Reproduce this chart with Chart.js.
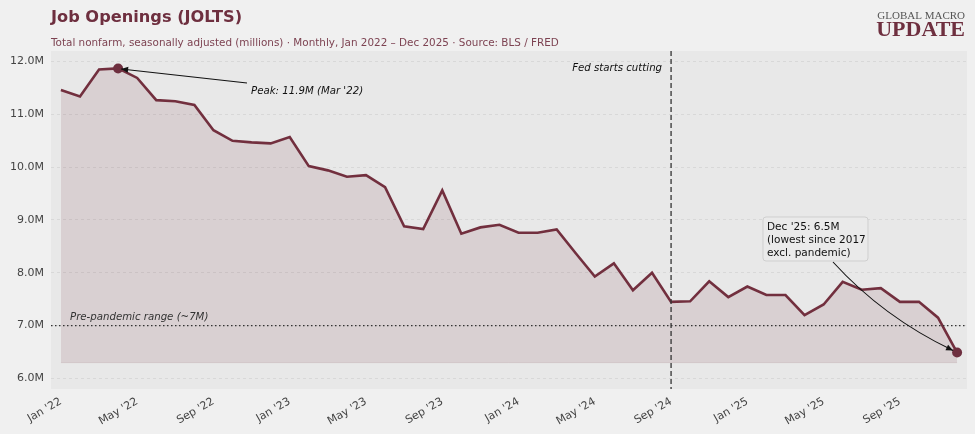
<!DOCTYPE html>
<html lang="en">
<head>
  <meta charset="UTF-8">
  <title>Job Openings (JOLTS)</title>
  <script src="https://cdn.jsdelivr.net/npm/chart.js"></script>
  <style>
    html, body {
      margin: 0;
      padding: 0;
      background: #f0f0f0;
    }
    #wrap {
      position: relative;
      width: 975px;
      height: 434px;
    }
  </style>
</head>
<body>
  <div id="wrap">
    <canvas id="chart" width="975" height="434"></canvas>
  </div>

  <script>
    // monthly openings, millions (Jan 2022 .. Dec 2025)
    const months = [
      "Jan '22","Feb '22","Mar '22","Apr '22","May '22","Jun '22","Jul '22","Aug '22","Sep '22","Oct '22","Nov '22","Dec '22",
      "Jan '23","Feb '23","Mar '23","Apr '23","May '23","Jun '23","Jul '23","Aug '23","Sep '23","Oct '23","Nov '23","Dec '23",
      "Jan '24","Feb '24","Mar '24","Apr '24","May '24","Jun '24","Jul '24","Aug '24","Sep '24","Oct '24","Nov '24","Dec '24",
      "Jan '25","Feb '25","Mar '25","Apr '25","May '25","Jun '25","Jul '25","Aug '25","Sep '25","Oct '25","Nov '25","Dec '25"
    ];
    const openings = [
      11.46, 11.34, 11.85, 11.87, 11.69, 11.27, 11.25, 11.18, 10.70, 10.50, 10.47, 10.45,
      10.57, 10.02, 9.94, 9.82, 9.85, 9.62, 8.88, 8.83, 9.56, 8.74, 8.86, 8.91,
      8.76, 8.76, 8.82, 8.37, 7.93, 8.18, 7.67, 8.00, 7.45, 7.46, 7.84, 7.54,
      7.74, 7.58, 7.58, 7.20, 7.40, 7.83, 7.68, 7.71, 7.45, 7.45, 7.15, 6.49
    ];
    const xTickIdx = [0, 4, 8, 12, 16, 20, 24, 28, 32, 36, 40, 44];
    const yTicks = [6, 7, 8, 9, 10, 11, 12];
    const fillBase = 6.3;
    const prePandemic = 7.0;
    const fedCutIdx = 32;   // Sep '24
    const peakIdx = 3;
    const lastIdx = openings.length - 1;

    const MAROON = '#722f3e';
    const FONT = "'DejaVu Sans', sans-serif";

    // plot background + titles + annotations
    const decor = {
      id: 'decor',
      beforeDraw(chart) {
        const { ctx, chartArea: a } = chart;
        ctx.save();
        ctx.fillStyle = '#e8e8e8';
        ctx.fillRect(a.left, a.top, a.right - a.left, a.bottom - a.top);
        ctx.restore();
      },
      afterDraw(chart) {
        const { ctx, chartArea: a, scales } = chart;
        const xs = scales.x, ys = scales.y;
        ctx.save();

        // title block
        ctx.textBaseline = 'alphabetic';
        ctx.textAlign = 'left';
        ctx.fillStyle = '#6e2f3f';
        ctx.font = "bold 16.2px " + FONT;
        ctx.fillText('Job Openings (JOLTS)', 51, 22);
        ctx.fillStyle = '#7d4352';
        ctx.font = "10.4px " + FONT;
        ctx.fillText('Total nonfarm, seasonally adjusted (millions) \u00b7 Monthly, Jan 2022 \u2013 Dec 2025 \u00b7 Source: BLS / FRED', 51, 46);

        // logo
        ctx.textAlign = 'right';
        ctx.fillStyle = '#555';
        ctx.font = "11px 'Liberation Serif', serif";
        ctx.fillText('GLOBAL MACRO', 965, 18.5);
        ctx.fillStyle = '#6e2f3f';
        ctx.font = "bold 22px 'Liberation Serif', serif";
        ctx.fillText('UPDATE', 965, 36);

        // fill outline at the base
        const yb = ys.getPixelForValue(fillBase);
        ctx.strokeStyle = 'rgba(114,47,61,0.12)';
        ctx.lineWidth = 1;
        ctx.beginPath();
        ctx.moveTo(xs.getPixelForValue(0), yb);
        ctx.lineTo(xs.getPixelForValue(lastIdx), yb);
        ctx.stroke();

        // pre-pandemic dotted line
        const y7 = ys.getPixelForValue(prePandemic);
        ctx.strokeStyle = '#333';
        ctx.lineWidth = 1.2;
        ctx.setLineDash([1.5, 2.5]);
        ctx.beginPath();
        ctx.moveTo(a.left, y7);
        ctx.lineTo(a.right, y7);
        ctx.stroke();
        ctx.setLineDash([]);
        ctx.textAlign = 'left';
        ctx.fillStyle = '#333';
        ctx.font = "italic 10.2px " + FONT;
        ctx.fillText('Pre-pandemic range (~7M)', 70, y7 - 6);

        // Fed cut vertical dashed line
        const xf = xs.getPixelForValue(fedCutIdx);
        ctx.strokeStyle = '#333';
        ctx.lineWidth = 1.3;
        ctx.setLineDash([5, 3]);
        ctx.beginPath();
        ctx.moveTo(xf, a.top);
        ctx.lineTo(xf, a.bottom);
        ctx.stroke();
        ctx.setLineDash([]);
        ctx.textAlign = 'right';
        ctx.fillStyle = '#111';
        ctx.fillText('Fed starts cutting', xf - 9, 71);

        // peak annotation
        const px = xs.getPixelForValue(peakIdx), py = ys.getPixelForValue(openings[peakIdx]);
        ctx.textAlign = 'left';
        ctx.fillStyle = '#111';
        ctx.fillText('Peak: 11.9M (Mar \'22)', 251, 94);
        arrow(ctx, 247, 83, px + 3, py + 0.5, null);

        // Dec '25 box
        const bx = 763, by = 217, bw = 105, bh = 44;
        ctx.fillStyle = '#eaeaea';
        ctx.strokeStyle = '#cfcfcf';
        ctx.lineWidth = 1;
        ctx.beginPath();
        ctx.roundRect(bx, by, bw, bh, 3);
        ctx.fill();
        ctx.stroke();
        ctx.fillStyle = '#111';
        ctx.font = "10.5px " + FONT;
        ctx.fillText('Dec \'25: 6.5M', bx + 4, by + 13);
        ctx.fillText('(lowest since 2017', bx + 4, by + 26);
        ctx.fillText('excl. pandemic)', bx + 4, by + 38.5);
        const ex = xs.getPixelForValue(lastIdx), ey = ys.getPixelForValue(openings[lastIdx]);
        arrow(ctx, 833, by + bh + 1, ex - 4, ey - 2, { x: 883, y: 317 });

        ctx.restore();
      }
    };

    function arrow(ctx, x0, y0, x1, y1, ctrl) {
      ctx.strokeStyle = '#111';
      ctx.fillStyle = '#111';
      ctx.lineWidth = 1.1;
      ctx.beginPath();
      ctx.moveTo(x0, y0);
      let ang;
      if (ctrl) {
        ctx.quadraticCurveTo(ctrl.x, ctrl.y, x1, y1);
        ang = Math.atan2(y1 - ctrl.y, x1 - ctrl.x);
      } else {
        ctx.lineTo(x1, y1);
        ang = Math.atan2(y1 - y0, x1 - x0);
      }
      ctx.stroke();
      const L = 7, W = 3;
      ctx.beginPath();
      ctx.moveTo(x1, y1);
      ctx.lineTo(x1 - L * Math.cos(ang) + W * Math.sin(ang), y1 - L * Math.sin(ang) - W * Math.cos(ang));
      ctx.lineTo(x1 - L * Math.cos(ang) - W * Math.sin(ang), y1 - L * Math.sin(ang) + W * Math.cos(ang));
      ctx.closePath();
      ctx.fill();
    }

    const lineData = openings.map((v, i) => ({ x: i, y: v }));
    const markers = [peakIdx, lastIdx].map(i => ({ x: i, y: openings[i] }));

    new Chart(document.getElementById('chart').getContext('2d'), {
      type: 'line',
      data: {
        datasets: [
          {
            label: 'Job openings',
            data: markers,
            showLine: false,
            pointRadius: 5,
            pointBackgroundColor: '#6e2f3f',
            pointBorderWidth: 0
          },
          {
            label: 'Openings',
            data: lineData,
            borderColor: MAROON,
            borderWidth: 2.6,
            pointRadius: 0,
            tension: 0,
            fill: { value: fillBase },
            backgroundColor: 'rgba(114,47,61,0.13)'
          }
        ]
      },
      options: {
        responsive: false,
        animation: false,
        layout: { padding: { top: 51, right: 8, left: 0, bottom: 0 } },
        plugins: {
          legend: { display: false },
          tooltip: { enabled: false }
        },
        scales: {
          x: {
            type: 'linear',
            min: -0.52,
            max: 47.52,
            afterBuildTicks(scale) {
              scale.ticks = xTickIdx.map(v => ({ value: v }));
            },
            afterFit(scale) { scale.height = 45; },
            grid: { display: false, drawTicks: false },
            border: { display: false },
            ticks: {
              minRotation: 30,
              maxRotation: 30,
              padding: 6,
              color: '#444',
              font: { family: FONT, size: 11 },
              callback: v => months[v]
            }
          },
          y: {
            min: 5.8,
            max: 12.2,
            afterBuildTicks(scale) {
              scale.ticks = yTicks.map(v => ({ value: v }));
            },
            afterFit(scale) { scale.width = 51; },
            grid: { color: '#d3d3d3', lineWidth: 0.8, drawTicks: false },
            border: { display: false, dash: [3, 3] },
            ticks: {
              padding: 7,
              color: '#444',
              font: { family: FONT, size: 11 },
              callback: v => v.toFixed(1) + 'M'
            }
          }
        }
      },
      plugins: [decor]
    });
  </script>
</body>
</html>
